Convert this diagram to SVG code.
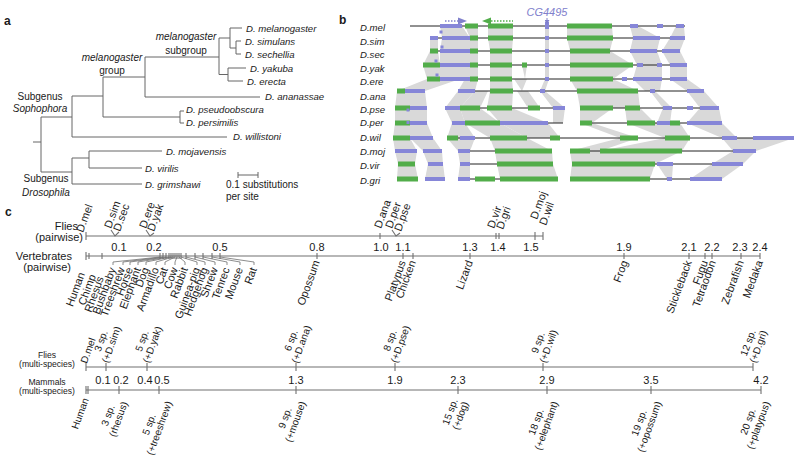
<svg xmlns="http://www.w3.org/2000/svg" width="800" height="460" viewBox="0 0 800 460">
<style>
text{font-family:"Liberation Sans",Arial,sans-serif;fill:#1a1a1a}
.pl{font-size:12px;font-weight:bold}
.a10{font-size:10px}
.sp{font-size:9.6px;font-style:italic}
.it{font-style:italic}
.c11{font-size:11px}
.c10{font-size:10px}
.c9{font-size:8.6px}
.m{text-anchor:middle}
.e{text-anchor:end}
.tr{stroke:#666;stroke-width:1;fill:none}
.ax{stroke:#707070;stroke-width:1.1;fill:none}
.gy{fill:#d9d9d9}
.rl{stroke:#222;stroke-width:1}
.gn{fill:#52ad4a}
.bu{fill:#8686d8}
.bt{fill:#8080cc;font-size:11px;font-style:italic}
</style>
<defs>
<marker id="ah" viewBox="0 0 6 6" refX="5" refY="3" markerWidth="5" markerHeight="5" orient="auto"><path d="M0,0L6,3L0,6z" fill="#8080cc"/></marker>
</defs>
<rect width="800" height="460" fill="#fff"/>

<!-- Panel labels -->
<text class="pl" x="4" y="25">a</text>
<text class="pl" x="339" y="24">b</text>
<text class="pl" x="5" y="216">c</text>

<!-- ===== Panel a: tree ===== -->
<g id="tree-connectors" class="tr">
<path d="M33,142H41M41,117V172M41,117H72M72,96V137M72,137H227M72,96H103M103,77V117M103,117H180M180,111V123M180,111H184M180,123H184M103,77H145M145,57V97M145,97H260M145,57H219M219,38V74.5M219,38H230M230,28V48M230,28H242M230,48H236M236,41V54M236,41H241M236,54H241M219,74.5H228M228,68V81M228,68H246M228,81H243"/>
<path d="M41,172H72M72,158V184M72,158H89M89,151V168M89,151H162M89,168H142M72,184H142"/>
<path d="M238,175H258M238,172V178M258,172V178"/>
</g>
<g id="tree-labels">
<text class="a10 it m" x="186" y="40">melanogaster</text>
<text class="a10 m" x="186" y="54">subgroup</text>
<text class="a10 it m" x="112" y="61">melanogaster</text>
<text class="a10 m" x="112" y="74">group</text>
<text class="a10 m" x="40" y="100">Subgenus</text>
<text class="a10 it m" x="40" y="112">Sophophora</text>
<text class="a10 m" x="46" y="182">Subgenus</text>
<text class="a10 it m" x="46" y="196">Drosophila</text>
<text class="sp" x="246" y="31.5">D. melanogaster</text>
<text class="sp" x="245" y="44.5">D. simulans</text>
<text class="sp" x="245" y="57.5">D. sechellia</text>
<text class="sp" x="250" y="71.5">D. yakuba</text>
<text class="sp" x="247" y="84.5">D. erecta</text>
<text class="sp" x="265" y="99.5">D. ananassae</text>
<text class="sp" x="186" y="112.5">D. pseudoobscura</text>
<text class="sp" x="186" y="125.5">D. persimilis</text>
<text class="sp" x="233" y="139.5">D. willistoni</text>
<text class="sp" x="166" y="154.5">D. mojavensis</text>
<text class="sp" x="145" y="171.5">D. virilis</text>
<text class="sp" x="145" y="187.5">D. grimshawi</text>
<text class="a10" x="226" y="188">0.1 substitutions</text>
<text class="a10" x="226" y="200">per site</text>
</g>

<!-- ===== Panel b: alignment ===== -->
<g id="b-labels">
<text class="sp" x="360" y="30.5">D.mel</text>
<text class="sp" x="360" y="44.5">D.sim</text>
<text class="sp" x="360" y="57.5">D.sec</text>
<text class="sp" x="360" y="71.5">D.yak</text>
<text class="sp" x="360" y="84.5">D.ere</text>
<text class="sp" x="360" y="99.5">D.ana</text>
<text class="sp" x="360" y="112.5">D.pse</text>
<text class="sp" x="360" y="125.5">D.per</text>
<text class="sp" x="360" y="140.5">D.wil</text>
<text class="sp" x="360" y="154.5">D.moj</text>
<text class="sp" x="360" y="168.5">D.vir</text>
<text class="sp" x="360" y="183.5">D.gri</text>
</g>
<g id="b-homology" class="gy">
<polygon points="440,26 462,26 470,38 442,38"/><polygon points="465,26 478,26 478,38 470,38"/><polygon points="488,26 513,26 513,38 488,38"/><polygon points="545,26 549,26 549,38 545,38"/><polygon points="567,26 612,26 613,38 567,38"/><polygon points="630,26 638,26 660,38 633,38"/><polygon points="676,26 684,26 685,38 670,38"/>
<polygon points="430,38 438,38 438,51 430,51"/><polygon points="442,38 470,38 470,51 440,51"/><polygon points="470,38 478,38 478,51 470,51"/><polygon points="488,38 513,38 512,51 490,51"/><polygon points="545,38 549,38 549,51 545,51"/><polygon points="567,38 613,38 610,51 570,51"/><polygon points="633,38 660,38 657,51 630,51"/><polygon points="670,38 685,38 680,51 662,51"/>
<polygon points="430,51 438,51 440,65 423,65"/><polygon points="440,51 470,51 470,65 440,65"/><polygon points="470,51 478,51 478,65 470,65"/><polygon points="490,51 512,51 512,65 490,65"/><polygon points="545,51 549,51 549,65 545,65"/><polygon points="570,51 610,51 633,65 570,65"/><polygon points="630,51 657,51 662,65 637,65"/><polygon points="662,51 680,51 687,65 670,65"/>
<polygon points="423,65 440,65 440,79 427,79"/><polygon points="440,65 470,65 470,79 440,79"/><polygon points="470,65 478,65 478,79 470,79"/><polygon points="490,65 512,65 512,79 490,79"/><polygon points="522,65 527,65 525,79"/><polygon points="545,65 549,65 549,79 545,79"/><polygon points="570,65 633,65 613,79 570,79"/><polygon points="637,65 662,65 662,79 633,79"/><polygon points="670,65 687,65 687,79 670,79"/>
<polygon points="427,79 460,79 425,91 397,91"/><polygon points="465,79 478,79 475,91 458,91"/><polygon points="490,79 512,79 513,91 490,91"/><polygon points="514,79 527,79 522,91"/><polygon points="545,79 549,79 545,91 540,91"/><polygon points="570,79 613,79 638,91 577,91"/><polygon points="633,79 662,79 660,91 645,91"/><polygon points="670,79 687,79 704,91 687,91"/>
<polygon points="397,91 425,91 427,108 395,108"/><polygon points="458,91 475,91 460,108 445,108"/><polygon points="475,91 488,91 480,108 460,108"/><polygon points="490,91 513,91 512,108 487,108"/><polygon points="517,91 528,91 540,108 528,108"/><polygon points="540,91 545,91 565,108 553,108"/><polygon points="577,91 638,91 640,108 580,108"/><polygon points="650,91 655,91 672,108 663,108"/><polygon points="687,91 704,91 719,108 700,108"/>
<polygon points="395,108 427,108 427,123 395,123"/><polygon points="445,108 460,108 465,123 452,123"/><polygon points="460,108 480,108 500,123 465,123"/><polygon points="487,108 512,108 548,123 500,123"/><polygon points="553,108 565,108 563,123 553,123"/><polygon points="580,108 613,108 592,123 580,123"/><polygon points="625,108 640,108 655,123 627,123"/><polygon points="663,108 672,108 670,123 657,123"/><polygon points="700,108 719,108 722,123 687,123"/>
<polygon points="395,123 427,123 433,138 393,138"/><polygon points="452,123 465,123 475,138 447,138"/><polygon points="465,123 500,123 527,138 490,138"/><polygon points="500,123 548,123 560,138 527,138"/><polygon points="580,123 592,123 638,138 620,138"/><polygon points="627,123 680,123 690,138 665,138"/><polygon points="687,123 722,123 737,138 722,138"/>
<polygon points="393,138 410,138 417,151 395,151"/><polygon points="410,138 433,138 442,151 423,151"/><polygon points="447,138 475,138 470,151 458,151"/><polygon points="490,138 527,138 552,151 495,151"/><polygon points="620,138 638,138 600,151 570,151"/><polygon points="665,138 690,138 682,151 600,151"/><polygon points="722,138 737,138 756,151 733,151"/><polygon points="737,138 794,138 756,151 745,151"/>
<polygon points="395,151 417,151 415,164 398,164"/><polygon points="423,151 442,151 443,164 428,164"/><polygon points="458,151 470,151 470,164 460,164"/><polygon points="495,151 552,151 553,164 497,164"/><polygon points="570,151 682,151 655,164 572,164"/><polygon points="733,151 756,151 743,164 712,164"/>
<polygon points="398,164 415,164 418,179 397,179"/><polygon points="428,164 443,164 445,179 425,179"/><polygon points="460,164 470,164 470,179 458,179"/><polygon points="497,164 553,164 558,179 500,179"/><polygon points="572,164 655,164 650,179 570,179"/><polygon points="657,164 673,164 672,179 667,179"/><polygon points="712,164 743,164 722,179 690,179"/>
</g>
<g id="b-rows" class="rl">
<path d="M410,26H685M430,38H685M430,51H680M423,65H687M427,79H687M397,91H425M458,91H704M395,108H427M445,108H565M580,108H719M395,123H427M452,123H563M580,123H722M393,138H433M447,138H794M395,151H417M423,151H442M458,151H552M570,151H756M398,164H415M428,164H443M460,164H553M572,164H743M397,179H418M425,179H445M458,179H558M570,179H722"/>
</g>
<g id="b-exons">
<rect class="bu" x="440" y="24" width="22" height="4"/><rect class="gn" x="465" y="23.5" width="13" height="5"/><rect class="gn" x="488" y="23.5" width="25" height="5"/><rect class="bu" x="545" y="22" width="4" height="7"/><rect class="gn" x="567" y="23.5" width="45" height="5"/><rect class="bu" x="630" y="24" width="8" height="4"/><rect class="bu" x="657" y="24" width="6" height="4"/><rect class="bu" x="676" y="24" width="8" height="4"/>
<rect class="bu" x="430" y="36" width="8" height="4"/><rect class="bu" x="442" y="36" width="28" height="4"/><rect class="gn" x="470" y="35.5" width="8" height="5"/><rect class="gn" x="488" y="35.5" width="25" height="5"/><rect class="bu" x="545" y="36" width="4" height="4"/><rect class="gn" x="567" y="35.5" width="46" height="5"/><rect class="bu" x="633" y="36" width="27" height="4"/><rect class="bu" x="670" y="36" width="15" height="4"/>
<rect class="gn" x="430" y="48.5" width="8" height="5"/><rect class="bu" x="440" y="49" width="30" height="4"/><rect class="gn" x="470" y="48.5" width="8" height="5"/><rect class="gn" x="490" y="48.5" width="22" height="5"/><rect class="bu" x="545" y="49" width="4" height="4"/><rect class="gn" x="570" y="48.5" width="40" height="5"/><rect class="bu" x="630" y="49" width="27" height="4"/><rect class="bu" x="662" y="49" width="18" height="4"/>
<rect class="gn" x="423" y="62.5" width="17" height="5"/><rect class="bu" x="440" y="63" width="30" height="4"/><rect class="gn" x="470" y="62.5" width="8" height="5"/><rect class="gn" x="490" y="62.5" width="22" height="5"/><rect class="gn" x="522" y="62.5" width="5" height="5"/><rect class="bu" x="545" y="63" width="4" height="4"/><rect class="gn" x="570" y="62.5" width="63" height="5"/><rect class="bu" x="637" y="63" width="6" height="4"/><rect class="bu" x="657" y="63" width="5" height="4"/><rect class="bu" x="670" y="63" width="17" height="4"/>
<rect class="gn" x="427" y="76.5" width="13" height="5"/><rect class="bu" x="440" y="77" width="30" height="4"/><rect class="gn" x="470" y="76.5" width="8" height="5"/><rect class="gn" x="490" y="76.5" width="22" height="5"/><rect class="bu" x="545" y="77" width="4" height="4"/><rect class="gn" x="570" y="76.5" width="43" height="5"/><rect class="bu" x="622" y="77" width="5" height="4"/><rect class="bu" x="633" y="77" width="29" height="4"/><rect class="bu" x="670" y="77" width="17" height="4"/>
<rect class="gn" x="397" y="88.5" width="8" height="5"/><rect class="bu" x="405" y="89" width="20" height="4"/><rect class="bu" x="458" y="89" width="17" height="4"/><rect class="gn" x="490" y="88.5" width="23" height="5"/><rect class="bu" x="540" y="89" width="5" height="4"/><rect class="gn" x="577" y="88.5" width="61" height="5"/><rect class="bu" x="650" y="89" width="5" height="4"/><rect class="bu" x="687" y="89" width="17" height="4"/>
<rect class="gn" x="395" y="105.5" width="15" height="5"/><rect class="bu" x="410" y="106" width="17" height="4"/><rect class="bu" x="445" y="106" width="15" height="4"/><rect class="gn" x="460" y="105.5" width="20" height="5"/><rect class="gn" x="487" y="105.5" width="25" height="5"/><rect class="gn" x="528" y="105.5" width="12" height="5"/><rect class="bu" x="553" y="106" width="12" height="4"/><rect class="gn" x="580" y="105.5" width="33" height="5"/><rect class="gn" x="625" y="105.5" width="15" height="5"/><rect class="bu" x="663" y="106" width="9" height="4"/><rect class="bu" x="687" y="106" width="6" height="4"/><rect class="bu" x="700" y="106" width="19" height="4"/>
<rect class="gn" x="395" y="120.5" width="15" height="5"/><rect class="bu" x="410" y="121" width="17" height="4"/><rect class="bu" x="452" y="121" width="13" height="4"/><rect class="gn" x="465" y="120.5" width="35" height="5"/><rect class="bu" x="500" y="121" width="48" height="4"/><rect class="gn" x="580" y="120.5" width="12" height="5"/><rect class="gn" x="627" y="120.5" width="28" height="5"/><rect class="bu" x="657" y="121" width="13" height="4"/><rect class="gn" x="670" y="120.5" width="10" height="5"/><rect class="bu" x="687" y="121" width="35" height="4"/>
<rect class="gn" x="393" y="135.5" width="17" height="5"/><rect class="bu" x="410" y="136" width="23" height="4"/><rect class="gn" x="447" y="135.5" width="11" height="5"/><rect class="bu" x="460" y="136" width="15" height="4"/><rect class="gn" x="490" y="135.5" width="37" height="5"/><rect class="gn" x="550" y="135.5" width="10" height="5"/><rect class="gn" x="620" y="135.5" width="18" height="5"/><rect class="gn" x="665" y="135.5" width="25" height="5"/><rect class="bu" x="722" y="136" width="15" height="4"/><rect class="bu" x="753" y="136" width="41" height="4"/>
<rect class="bu" x="395" y="149" width="22" height="4"/><rect class="bu" x="423" y="149" width="19" height="4"/><rect class="bu" x="458" y="149" width="12" height="4"/><rect class="gn" x="495" y="148.5" width="57" height="5"/><rect class="gn" x="570" y="148.5" width="20" height="5"/><rect class="gn" x="600" y="148.5" width="82" height="5"/><rect class="bu" x="733" y="149" width="23" height="4"/>
<rect class="gn" x="398" y="161.5" width="17" height="5"/><rect class="bu" x="428" y="162" width="15" height="4"/><rect class="bu" x="460" y="162" width="10" height="4"/><rect class="gn" x="497" y="161.5" width="56" height="5"/><rect class="gn" x="572" y="161.5" width="83" height="5"/><rect class="bu" x="657" y="162" width="16" height="4"/><rect class="bu" x="712" y="162" width="31" height="4"/>
<rect class="gn" x="397" y="176.5" width="21" height="5"/><rect class="bu" x="425" y="177" width="20" height="4"/><rect class="bu" x="458" y="177" width="12" height="4"/><rect class="gn" x="475" y="176.5" width="20" height="5"/><rect class="gn" x="500" y="176.5" width="58" height="5"/><rect class="gn" x="570" y="176.5" width="80" height="5"/><rect class="bu" x="667" y="177" width="5" height="4"/><rect class="bu" x="690" y="177" width="32" height="4"/>
<rect class="bu" x="439.5" y="30.5" width="3" height="3"/><rect class="bu" x="440.5" y="45.5" width="3" height="3"/><rect class="bu" x="434.5" y="59.5" width="3" height="3"/><rect class="bu" x="435.5" y="73.5" width="3" height="3"/><rect class="bu" x="406.5" y="108.5" width="3" height="3"/><rect class="bu" x="406.5" y="121" width="3" height="3"/>
</g>
<g id="b-annotations">
<line x1="445" y1="21" x2="459" y2="21" stroke="#8080cc" stroke-width="1.4" stroke-dasharray="1.5,1.5"/>
<polygon points="458,17.5 467,21 458,24.5" fill="#8080cc"/>
<line x1="491" y1="21" x2="513" y2="21" stroke="#52ad4a" stroke-width="1.4" stroke-dasharray="1.5,1.5"/>
<polygon points="491,17.5 482,21 491,24.5" fill="#52ad4a"/>
<text class="bt m" x="547" y="16">CG4495</text>
<line x1="547" y1="18" x2="547" y2="24" stroke="#8080cc" stroke-width="1" marker-end="url(#ah)"/>
</g>

<!-- ===== Panel c ===== -->
<g id="c-axis-labels">
<text class="c11 e" x="78" y="230">Flies</text>
<text class="c11 e" x="83" y="241">(pairwise)</text>
<text class="c11 e" x="72" y="260">Vertebrates</text>
<text class="c11 e" x="71" y="271">(pairwise)</text>
<text class="c9 m" x="47" y="357.5">Flies</text>
<text class="c9 m" x="47" y="366.5">(multi-species)</text>
<text class="c9 m" x="47" y="384.5">Mammals</text>
<text class="c9 m" x="47" y="393.5">(multi-species)</text>
</g>
<g id="c-axes" class="ax">
<path d="M86,236H543M86,232V240M380,233V239M496,233V239M499,233V239M535,232V240M543,232V240"/>
<path d="M111,230L115,236L119,232M146,230L150,236L154,233M392,230L396,236L400,233"/>
<path d="M86,256H760M86,252V260M89,253V259M102,253V259M160,253V259M163,253V259M166,253V259M169,253V259M171,253V259M173,253V259M175,253V259M177,253V259M179,253V259M181,253V259M186,253V259M195,253V259M203,253V259M212,253V259M220,253V259M317,253V259M403,253V259M413,253V259M470,253V259M624,253V259M689,253V259M705,253V259M712,253V259M741,253V259M760,253V259"/>
<path d="M86,367H753M86,363V371M106,363V371M147,363V371M296,363V371M395,363V371M543,363V371M753,363V371"/>
<path d="M86,390H761M86,386V394M88,386V394M119,386V394M159,386V394M296,386V394M458,386V394M547,386V394M651,386V394M761,386V394"/>
</g>
<g id="c-leaders" class="ax" style="stroke-width:0.8">
<path d="M113,265V262L160,257M123,265V262L163,257M130,265V262L166,257M138,265V262L169,257M146,265V262L171,257M156,265V262L173,257M165,265V262L175,257M175,265V262L177,257M185,265V262L179,257M197,265V262L181,257M205,265V262L186,257M215,265V262L195,257M227,265V262L203,257M240,265V262L212,257M254,265V262L220,257"/>
</g>
<g id="c-numbers" class="c11 m">
<text x="119" y="251">0.1</text><text x="154" y="251">0.2</text><text x="220" y="251">0.5</text><text x="317" y="251">0.8</text><text x="381" y="251">1.0</text><text x="403" y="251">1.1</text><text x="470" y="251">1.3</text><text x="498" y="251">1.4</text><text x="531" y="251">1.5</text><text x="624" y="251">1.9</text><text x="689" y="251">2.1</text><text x="712" y="251">2.2</text><text x="740" y="251">2.3</text><text x="760" y="251">2.4</text>
<text x="103" y="384">0.1</text><text x="121" y="384">0.2</text><text x="145" y="384">0.4</text><text x="162" y="384">0.5</text><text x="296" y="384">1.3</text><text x="395" y="384">1.9</text><text x="458" y="384">2.3</text><text x="547" y="384">2.9</text><text x="651" y="384">3.5</text><text x="761" y="384">4.2</text>
</g>
<g id="c-fly-pairwise" class="c11">
<text transform="translate(83,233) rotate(-70)">D.mel</text>
<text transform="translate(111,229) rotate(-70)">D.sim</text>
<text transform="translate(120,232) rotate(-70)">D.sec</text>
<text transform="translate(146,229) rotate(-70)">D.ere</text>
<text transform="translate(154,232) rotate(-70)">D.yak</text>
<text transform="translate(381,229) rotate(-70)">D.ana</text>
<text transform="translate(392,229) rotate(-70)">D.per</text>
<text transform="translate(401,232) rotate(-70)">D.pse</text>
<text transform="translate(494,229) rotate(-70)">D.vir</text>
<text transform="translate(503,230) rotate(-70)">D.gri</text>
<text transform="translate(537,220) rotate(-70)">D.moj</text>
<text transform="translate(546,226) rotate(-70)">D.wil</text>
</g>
<g id="c-vert-pairwise" class="c11 e">
<text transform="translate(85,274) rotate(-70)">Human</text>
<text transform="translate(96,276) rotate(-70)">Chimp</text>
<text transform="translate(104,278) rotate(-70)">Rhesus</text>
<text transform="translate(116,269) rotate(-70)">Bushbaby</text>
<text transform="translate(125,269) rotate(-70)">Treeshrew</text>
<text transform="translate(133,269) rotate(-70)">Horse</text>
<text transform="translate(141,269) rotate(-70)">Elephant</text>
<text transform="translate(149,269) rotate(-70)">Dog</text>
<text transform="translate(159,269) rotate(-70)">Armadillo</text>
<text transform="translate(168,269) rotate(-70)">Cat</text>
<text transform="translate(178,269) rotate(-70)">Cow</text>
<text transform="translate(188,269) rotate(-70)">Rabbit</text>
<text transform="translate(200,269) rotate(-70)">Guinea-pig</text>
<text transform="translate(208,269) rotate(-70)">Hedgehog</text>
<text transform="translate(218,269) rotate(-70)">Shrew</text>
<text transform="translate(230,269) rotate(-70)">Tenrec</text>
<text transform="translate(243,269) rotate(-70)">Mouse</text>
<text transform="translate(257,269) rotate(-70)">Rat</text>
<text transform="translate(320,262) rotate(-70)">Opossum</text>
<text transform="translate(406,262) rotate(-70)">Platypus</text>
<text transform="translate(416,262) rotate(-70)">Chicken</text>
<text transform="translate(473,262) rotate(-70)">Lizard</text>
<text transform="translate(628,262) rotate(-70)">Frog</text>
<text transform="translate(692,262) rotate(-70)">Stickleback</text>
<text transform="translate(708,262) rotate(-70)">Fugu</text>
<text transform="translate(716,262) rotate(-70)">Tetraodon</text>
<text transform="translate(744,262) rotate(-70)">Zebrafish</text>
<text transform="translate(763,262) rotate(-70)">Medaka</text>
</g>
<g id="c-fly-multi" class="c10 m">
<g transform="translate(88,350.5) rotate(-70)"><text y="3.5">D.mel</text></g>
<g transform="translate(107,343) rotate(-70)"><text y="-3">3 sp.</text><text y="8">(+D.sim)</text></g>
<g transform="translate(148,343) rotate(-70)"><text y="-3">5 sp.</text><text y="8">(+D.yak)</text></g>
<g transform="translate(297,342.5) rotate(-70)"><text y="-3">6 sp.</text><text y="8">(+D.ana)</text></g>
<g transform="translate(396,342.6) rotate(-70)"><text y="-3">8 sp.</text><text y="8">(+D.pse)</text></g>
<g transform="translate(544,344.8) rotate(-70)"><text y="-3">9 sp.</text><text y="8">(+D.wil)</text></g>
<g transform="translate(754,345) rotate(-70)"><text y="-3">12 sp.</text><text y="8">(+D.gri)</text></g>
</g>
<g id="c-mammal-multi" class="c10 m">
<g transform="translate(80,413.4) rotate(-70)"><text y="3.5">Human</text></g>
<g transform="translate(114,417.5) rotate(-70)"><text y="-3">3 sp.</text><text y="8">(rhesus)</text></g>
<g transform="translate(155,426.5) rotate(-70)"><text y="-3">5 sp.</text><text y="8">(+treeshrew)</text></g>
<g transform="translate(291,420) rotate(-70)"><text y="-3">9 sp.</text><text y="8">(+mouse)</text></g>
<g transform="translate(456,414) rotate(-70)"><text y="-3">15 sp.</text><text y="8">(+dog)</text></g>
<g transform="translate(542,424) rotate(-70)"><text y="-3">18 sp.</text><text y="8">(+elephant)</text></g>
<g transform="translate(645,425) rotate(-70)"><text y="-3">19 sp.</text><text y="8">(+opossum)</text></g>
<g transform="translate(754,423.6) rotate(-70)"><text y="-3">20 sp.</text><text y="8">(+platypus)</text></g>
</g>
</svg>
